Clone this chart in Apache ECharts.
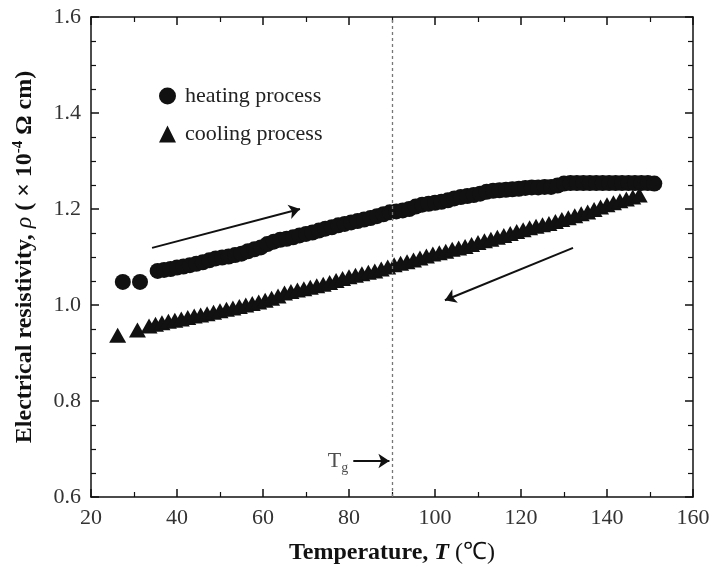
<!DOCTYPE html>
<html>
<head>
<meta charset="utf-8">
<script src="https://cdn.jsdelivr.net/npm/echarts@6/dist/echarts.min.js"></script>
<style>
  html, body { margin: 0; padding: 0; background: #fff; }
  #resChart { width: 710px; height: 567px; }
</style>
</head>
<body>
<div id="resChart"></div>
<script>
// heating process (circles): temperature in C, resistivity x1e-4 ohm cm
var heatT = [27.4, 31.4, 35.5, 37.0, 38.5, 40.0, 41.5, 43.0, 44.5, 46.0, 47.5, 49.0, 50.5, 52.0, 53.5, 55.0,
  56.5, 58.0, 59.5, 61.0, 62.5, 64.0, 65.5, 67.0, 68.5, 70.0, 71.5, 73.0, 74.5, 76.0, 77.5, 79.0,
  80.5, 82.0, 83.5, 85.0, 86.5, 88.0, 89.5, 91.0, 92.5, 94.0, 95.5, 97.0, 98.5, 100.0, 101.5, 103.0,
  104.5, 106.0, 107.5, 109.0, 110.5, 112.0, 113.5, 115.0, 116.5, 118.0, 119.5, 121.0, 122.5, 124.0,
  125.5, 127.0, 128.5, 130.0, 131.5, 133.0, 134.5, 136.0, 137.5, 139.0, 140.5, 142.0, 143.5, 145.0,
  146.5, 148.0, 149.5, 151.0];
var heatRho = [1.048, 1.048, 1.071, 1.073, 1.075, 1.078, 1.080, 1.083, 1.086, 1.089, 1.093, 1.097, 1.099, 1.101, 1.104, 1.107,
  1.112, 1.116, 1.120, 1.127, 1.132, 1.136, 1.138, 1.141, 1.145, 1.148, 1.151, 1.155, 1.159, 1.162, 1.166, 1.169,
  1.172, 1.175, 1.178, 1.181, 1.185, 1.189, 1.193, 1.195, 1.197, 1.200, 1.205, 1.209, 1.211, 1.213, 1.215, 1.218,
  1.222, 1.225, 1.227, 1.229, 1.232, 1.236, 1.238, 1.239, 1.240, 1.241, 1.242, 1.244, 1.245, 1.245,
  1.246, 1.246, 1.249, 1.253, 1.254, 1.254, 1.254, 1.254, 1.254, 1.254, 1.254, 1.254, 1.254, 1.254,
  1.254, 1.254, 1.254, 1.253];

// cooling process (triangles)
var coolT = [26.2, 30.8, 33.5, 35.0, 36.5, 38.0, 39.5, 41.0, 42.5, 44.0, 45.5, 47.0, 48.5, 50.0, 51.5, 53.0,
  54.5, 56.0, 57.5, 59.0, 60.5, 62.0, 63.5, 65.0, 66.5, 68.0, 69.5, 71.0, 72.5, 74.0, 75.5, 77.0,
  78.5, 80.0, 81.5, 83.0, 84.5, 86.0, 87.5, 89.0, 90.5, 92.0, 93.5, 95.0, 96.5, 98.0, 99.5, 101.0,
  102.5, 104.0, 105.5, 107.0, 108.5, 110.0, 111.5, 113.0, 114.5, 116.0, 117.5, 119.0, 120.5, 122.0,
  123.5, 125.0, 126.5, 128.0, 129.5, 131.0, 132.5, 134.0, 135.5, 137.0, 138.5, 140.0, 141.5, 143.0,
  144.5, 146.0, 147.5];
var coolRho = [0.937, 0.948, 0.956, 0.960, 0.963, 0.966, 0.968, 0.971, 0.974, 0.977, 0.979, 0.982, 0.985, 0.988, 0.991, 0.994,
  0.997, 1.000, 1.003, 1.006, 1.010, 1.014, 1.019, 1.025, 1.028, 1.031, 1.034, 1.037, 1.040, 1.043, 1.047, 1.051,
  1.055, 1.059, 1.062, 1.065, 1.068, 1.071, 1.075, 1.079, 1.084, 1.087, 1.090, 1.094, 1.098, 1.102, 1.106, 1.109,
  1.112, 1.116, 1.119, 1.122, 1.126, 1.130, 1.134, 1.137, 1.141, 1.145, 1.149, 1.153, 1.157, 1.161,
  1.164, 1.167, 1.170, 1.174, 1.178, 1.182, 1.186, 1.190, 1.194, 1.199, 1.204, 1.209, 1.213, 1.217,
  1.221, 1.225, 1.229];

// annotations: direction arrows and the glass transition mark
var heatArrow = [[34.2, 1.119], [68.6, 1.200]];
var coolArrow = [[132.1, 1.119], [102.3, 1.010]];
var tgArrow = [[81.0, 0.675], [89.4, 0.675]];
var tgValue = 90;

var serif = '"Liberation Serif", "Times New Roman", serif';

function pairs(xs, ys) {
  var out = [];
  for (var i = 0; i < xs.length; i++) out.push([xs[i], ys[i]]);
  return out;
}

var chart = echarts.init(document.getElementById('resChart'));

var xBase = {
  type: 'value', min: 20, max: 160, interval: 20,
  axisLine: { lineStyle: { color: '#111', width: 1.5 } },
  axisTick: { inside: true, length: 8, lineStyle: { color: '#111', width: 1.5 } },
  minorTick: { show: true, splitNumber: 2, length: 5, lineStyle: { color: '#111', width: 1.2 } },
  splitLine: { show: false }
};
var yBase = {
  type: 'value', min: 0.6, max: 1.6, interval: 0.2,
  axisLine: { lineStyle: { color: '#111', width: 1.5 } },
  axisTick: { inside: true, length: 8, lineStyle: { color: '#111', width: 1.5 } },
  minorTick: { show: true, splitNumber: 4, length: 5, lineStyle: { color: '#111', width: 1.2 } },
  splitLine: { show: false }
};

var option = {
  backgroundColor: '#fff',
  animation: false,
  grid: { left: 91, right: 17, top: 17, bottom: 70, outerBoundsMode: 'none', containLabel: false },
  legend: {
    orient: 'vertical',
    left: 154,
    top: 80,
    itemWidth: 17,
    itemHeight: 17,
    itemGap: 16,
    data: ['heating process', 'cooling process'],
    textStyle: { fontFamily: serif, fontSize: 22, color: '#222', padding: [0, 0, 0, 4] }
  },
  xAxis: [
    Object.assign({}, xBase, {
      position: 'bottom',
      name: '{b|Temperature, }{bi|T}{r| (℃)}',
      nameLocation: 'middle',
      nameGap: 44,
      nameTextStyle: {
        rich: {
          b: { fontFamily: serif, fontSize: 24, fontWeight: 'bold', color: '#111' },
          bi: { fontFamily: serif, fontSize: 24, fontWeight: 'bold', fontStyle: 'italic', color: '#111' },
          r: { fontFamily: serif, fontSize: 24, color: '#111' }
        }
      },
      axisLabel: { fontFamily: serif, fontSize: 22, color: '#333', margin: 10 }
    }),
    Object.assign({}, xBase, { position: 'top', axisLabel: { show: false } })
  ],
  yAxis: [
    Object.assign({}, yBase, {
      position: 'left',
      name: '{b|Electrical resistivity, }{bi|ρ}{b| ( × 10}{sup|-4}{b| Ω cm)}',
      nameLocation: 'middle',
      nameGap: 52,
      nameTextStyle: {
        rich: {
          b: { fontFamily: serif, fontSize: 24, fontWeight: 'bold', color: '#111', lineHeight: 28 },
          bi: { fontFamily: serif, fontSize: 24, fontStyle: 'italic', color: '#111', lineHeight: 28 },
          sup: { fontFamily: serif, fontSize: 15, fontWeight: 'bold', color: '#111', verticalAlign: 'top', lineHeight: 28 }
        }
      },
      axisLabel: {
        fontFamily: serif, fontSize: 22, color: '#333', margin: 10,
        formatter: function (v) { return v.toFixed(1); }
      }
    }),
    Object.assign({}, yBase, { position: 'right', axisLabel: { show: false } })
  ],
  series: [
    {
      name: 'heating process',
      type: 'scatter',
      symbol: 'circle',
      symbolSize: 16,
      itemStyle: { color: '#111', opacity: 1 },
      data: pairs(heatT, heatRho),
      markLine: {
        silent: true,
        symbol: 'none',
        label: { show: false },
        lineStyle: { color: '#777', type: [3, 3], width: 1.3 },
        data: [{ xAxis: tgValue }]
      }
    },
    {
      name: 'cooling process',
      type: 'scatter',
      symbol: 'triangle',
      symbolSize: [17, 15],
      itemStyle: { color: '#111', opacity: 1 },
      data: pairs(coolT, coolRho)
    },
    {
      type: 'lines',
      coordinateSystem: 'cartesian2d',
      symbol: ['none', 'arrow'],
      symbolSize: [0, 11],
      lineStyle: { color: '#111', width: 2, opacity: 1 },
      silent: true,
      data: [
        { coords: heatArrow },
        { coords: coolArrow },
        { coords: tgArrow }
      ]
    },
    {
      type: 'scatter',
      symbolSize: 0,
      silent: true,
      label: {
        show: true,
        position: 'left',
        distance: 5,
        formatter: '{t|T}{g|g}',
        rich: {
          t: { fontFamily: serif, fontSize: 22, color: '#222' },
          g: { fontFamily: serif, fontSize: 14, color: '#222', verticalAlign: 'bottom', padding: [15, 0, 0, 0] }
        }
      },
      data: [tgArrow[0]]
    }
  ]
};

chart.setOption(option);
</script>
</body>
</html>
